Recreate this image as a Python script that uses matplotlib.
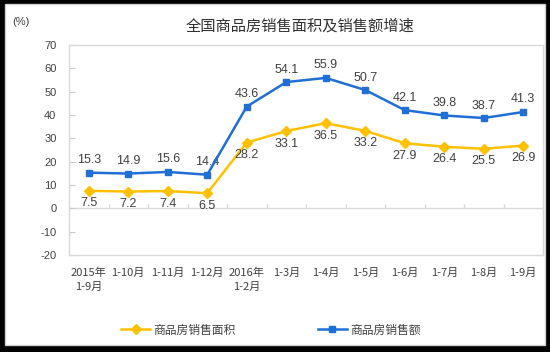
import matplotlib
matplotlib.use("Agg")
import matplotlib.pyplot as plt
import numpy as np
from matplotlib.patches import Rectangle
from matplotlib.lines import Line2D

# data
months = ["2015年\n1-9月", "1-10月", "1-11月", "1-12月", "2016年\n1-2月", "1-3月",
          "1-4月", "1-5月", "1-6月", "1-7月", "1-8月", "1-9月"]
area = [7.5, 7.2, 7.4, 6.5, 28.2, 33.1, 36.5, 33.2, 27.9, 26.4, 25.5, 26.9]
sales = [15.3, 14.9, 15.6, 14.4, 43.6, 54.1, 55.9, 50.7, 42.1, 39.8, 38.7, 41.3]
yticks = [-20, -10, 0, 10, 20, 30, 40, 50, 60, 70]

area_name = "商品房销售面积"
sales_name = "商品房销售额"
title = "全国商品房销售面积及销售额增速"

cjk = ["Noto Sans CJK SC", "DejaVu Sans"]
num = ["Liberation Sans", "DejaVu Sans"]
txt = "#404040"
blue = "#1f6fd6"
gold = "#ffc000"

fig = plt.figure(figsize=(5.5, 3.52), dpi=100, facecolor="black")
# white card with thin grey edge inside the black frame
fig.patches.append(Rectangle((5 / 550, 1 - 345 / 352), 540 / 550, 341 / 352,
                             transform=fig.transFigure, facecolor="white",
                             edgecolor="#d0d0d0", lw=1, zorder=-5))

ax = fig.add_axes([69 / 550, 1 - 255 / 352, 474 / 550, 210 / 352])
ax.set_facecolor("white")
x = np.arange(len(months))

ax.plot(x, area, color=gold, lw=1.8, marker="D", ms=5.5, zorder=3)
ax.plot(x, sales, color=blue, lw=1.8, marker="s", ms=4.8, zorder=4)

for xi, v in zip(x, sales):
    ax.annotate(f"{v}", (xi, v), xytext=(0, 9), textcoords="offset points",
                ha="center", va="center", fontsize=9, color=txt, family=num)
for xi, v in zip(x, area):
    ax.annotate(f"{v}", (xi, v), xytext=(0, -9), textcoords="offset points",
                ha="center", va="center", fontsize=9, color=txt, family=num)

ax.set_xlim(-0.5, len(months) - 0.5)
ax.set_ylim(-20, 70)
ax.set_yticks(yticks)
ax.set_yticklabels([str(t) for t in yticks], family=num, fontsize=8, color=txt)
ax.set_xticks(x)
ax.set_xticklabels(months, family=cjk, fontsize=8, color=txt, linespacing=1.5)
ax.tick_params(axis="x", length=0, pad=9)
ax.tick_params(axis="y", direction="in", length=4, color="#c8c8c8", pad=9)

for s in ax.spines.values():
    s.set_color("#d9d9d9")
    s.set_linewidth(1)
ax.axhline(0, color="#d9d9d9", lw=1, zorder=1)
ax.vlines(x[:-1] + 0.5, 0, 2, color="#d9d9d9", lw=1, zorder=1)

fig.text(300 / 550, 1 - 26 / 352, title, ha="center", va="center",
         fontsize=11, color="#303030", family=cjk)
fig.text(12 / 550, 1 - 22 / 352, "(%)", ha="left", va="center",
         fontsize=8, color=txt, family=num)

handles = [Line2D([], [], color=gold, lw=1.8, marker="D", ms=5),
           Line2D([], [], color=blue, lw=1.8, marker="s", ms=4.5)]
fig.legend(handles, [area_name, sales_name], loc="center",
           bbox_to_anchor=(271 / 550, 1 - 330 / 352), ncol=2, frameon=False,
           prop={"family": cjk, "size": 8.5}, labelcolor=txt,
           handlelength=2.4, handletextpad=0.3, columnspacing=7)

fig.savefig("out.png", dpi=100, facecolor="black")
